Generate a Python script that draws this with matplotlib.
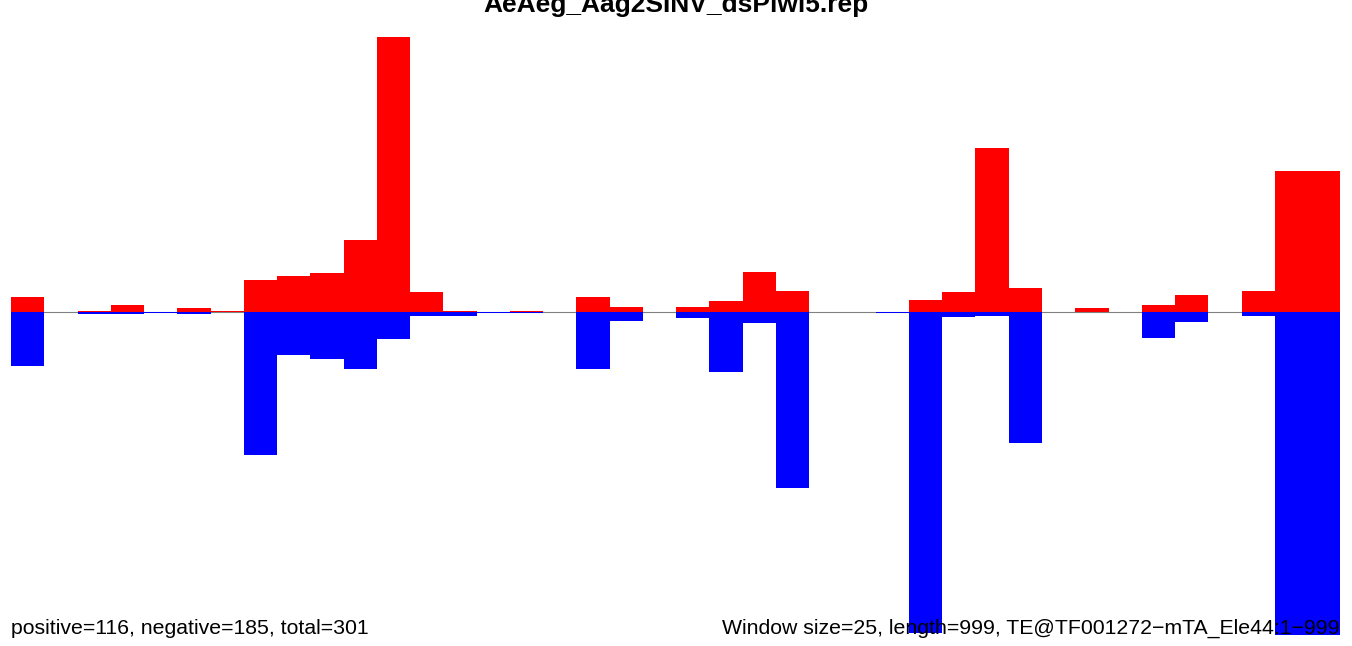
import numpy as np
import matplotlib
matplotlib.use("Agg")
import matplotlib.pyplot as plt

plt.rcParams['font.family'] = ['Liberation Sans', 'DejaVu Sans']

title = "AeAeg_Aag2SINV_dsPiwi5.rep"
left_note = "positive=116, negative=185, total=301"
right_note = "Window size=25, length=999, TE@TF001272\u2212mTA_Ele44:1\u2212999"

window = 25
length = 999

# per-window signal, sense strand (up) and antisense strand (down)
pos = [15, 0, 1, 7, 0, 4, 1, 32, 36, 39, 72, 275, 20, 1, 0, 1, 0, 15, 5, 0,
       5, 11, 40, 21, 0, 0.5, 0, 12, 20, 164, 24, 0, 4, 0, 7, 17, 0, 21, 141]
neg = [54, 0, 2, 2, 1, 2, 0, 143, 43, 47, 57, 27, 4, 4, 1, 1, 0, 57, 9, 0,
       6, 60, 11, 176, 0, 0, 1, 321, 5, 4, 131, 0, 0, 0, 26, 10, 0, 4, 323]

pos = np.array(pos, dtype=float)
neg = np.array(neg, dtype=float)

# window edges; the short tail is merged into the last window
starts = np.arange(len(pos)) * window
edges = np.append(starts, length)
widths = np.diff(edges)

W, H = 1352, 646
fig = plt.figure(figsize=(W / 100, H / 100), dpi=100)
ax = fig.add_axes([11 / W, (H - 635) / H, 1329 / W, 598 / H])

ax.axhline(0, color='#808080', lw=0.8, zorder=0)
ax.bar(starts, pos, width=widths, align='edge', color='#ff0000', linewidth=0, zorder=1)
ax.bar(starts, -neg, width=widths, align='edge', color='#0000ff', linewidth=0, zorder=1)

ax.set_xlim(0, length)
ax.set_ylim(-neg.max(), pos.max())
ax.axis('off')

# title sits partly above the top edge, as in the original output
fig.text(0.5, (H - 12) / H, title, ha='center', va='baseline',
         fontsize=19, fontweight='bold')
fig.text(11 / W, (H - 634) / H, left_note, ha='left', va='baseline', fontsize=15.3)
fig.text(1340 / W, (H - 634) / H, right_note, ha='right', va='baseline', fontsize=15.3)

fig.savefig("out.png", dpi=100)
